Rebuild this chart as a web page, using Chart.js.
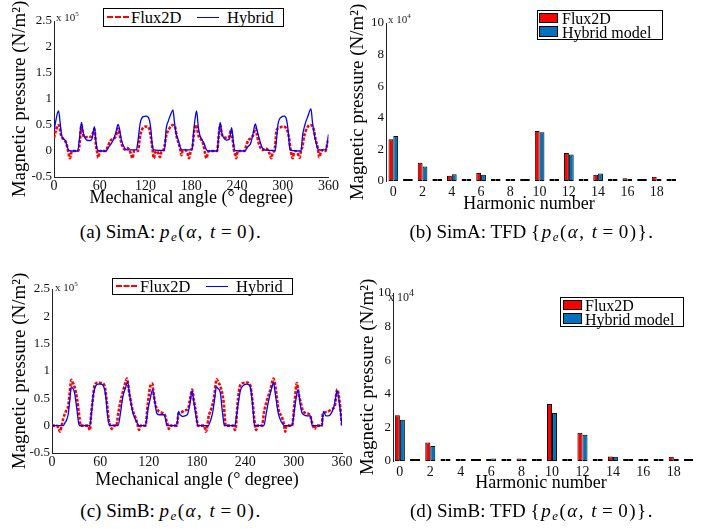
<!DOCTYPE html>
<html>
<head>
<meta charset="utf-8">
<script src="https://cdn.jsdelivr.net/npm/chart.js@4.4.1/dist/chart.umd.min.js"></script>
<style>
body { margin: 0; background: #fff; }
#page { position: relative; width: 710px; height: 529px; overflow: hidden; font-family: "Liberation Serif", "Times New Roman", serif; color: #000; }
canvas { position: absolute; }
.lg { position: absolute; border: 1px solid #000; background: #fff; box-sizing: border-box; z-index: 2; }
.lg span { position: absolute; white-space: nowrap; line-height: 1; }
.exp { position: absolute; font-size: 11px; color: #222; white-space: nowrap; line-height: 1; z-index: 2; }
.exp sup { font-size: 7px; vertical-align: 5px; }
.cap { position: absolute; font-size: 19px; white-space: nowrap; transform: translateX(-50%); line-height: 1.2; }
.cap .m { letter-spacing: 1.5px; }
.cap .eq { margin: 0 4px; }
.cap sub { font-size: 13px; vertical-align: -3px; }
</style>
</head>
<body>
<div id="page">
  <canvas id="chartA" width="340" height="210" style="left:0;top:0"></canvas>
  <canvas id="chartB" width="365" height="216" style="left:345px;top:0"></canvas>
  <canvas id="chartC" width="355" height="232" style="left:0;top:260px"></canvas>
  <canvas id="chartD" width="360" height="235" style="left:350px;top:260px"></canvas>

  <div class="exp" style="left:56px;top:11px">x 10<sup>5</sup></div>
  <div class="exp" style="left:388px;top:13px">x 10<sup>4</sup></div>
  <div class="exp" style="left:55px;top:281px">x 10<sup>5</sup></div>
  <div class="exp" style="left:388px;top:288px;font-size:12px">x 10<sup style="font-size:10px">4</sup></div>

  <div class="lg" style="left:103px;top:8px;width:181px;height:19px;font-size:16.5px">
    <span style="left:3px;top:7px;width:22px;border-top:2px dashed #f00"></span>
    <span style="left:27px;top:1px">Flux2D</span>
    <span style="left:93px;top:8px;width:22px;border-top:1.5px solid #00f"></span>
    <span style="left:123px;top:1px">Hybrid</span>
  </div>
  <div class="lg" style="left:112px;top:278px;width:181px;height:17px;font-size:16.5px">
    <span style="left:3px;top:6px;width:21px;border-top:2px dashed #f00"></span>
    <span style="left:27px;top:0px">Flux2D</span>
    <span style="left:93px;top:7px;width:22px;border-top:1.5px solid #00f"></span>
    <span style="left:123px;top:0px">Hybrid</span>
  </div>
  <div class="lg" style="left:537px;top:10px;width:126px;height:30px;font-size:16px">
    <span style="left:1px;top:2px;width:19px;height:10px;background:#f00;border:1px solid #000;box-sizing:border-box"></span>
    <span style="left:1px;top:15px;width:19px;height:11px;background:#0072bd;border:1px solid #000;box-sizing:border-box"></span>
    <span style="left:24px;top:0px">Flux2D</span>
    <span style="left:24px;top:14px">Hybrid model</span>
  </div>
  <div class="lg" style="left:560px;top:297px;width:124px;height:30px;font-size:16px">
    <span style="left:2px;top:2px;width:19px;height:10px;background:#f00;border:1px solid #000;box-sizing:border-box"></span>
    <span style="left:2px;top:15px;width:19px;height:11px;background:#0072bd;border:1px solid #000;box-sizing:border-box"></span>
    <span style="left:24px;top:0px">Flux2D</span>
    <span style="left:24px;top:14px">Hybrid model</span>
  </div>

  <div class="cap" style="left:171px;top:221px">(a) SimA: <span class="m"><i>p<sub>e</sub></i>(<i>α</i>, <i>t</i><span class="eq">=</span>0).</span></div>
  <div class="cap" style="left:532px;top:221px">(b) SimA: TFD <span class="m">{<i>p<sub>e</sub></i>(<i>α</i>, <i>t</i><span class="eq">=</span>0)}.</span></div>
  <div class="cap" style="left:171px;top:500px">(c) SimB: <span class="m"><i>p<sub>e</sub></i>(<i>α</i>, <i>t</i><span class="eq">=</span>0).</span></div>
  <div class="cap" style="left:532px;top:500px">(d) SimB: TFD <span class="m">{<i>p<sub>e</sub></i>(<i>α</i>, <i>t</i><span class="eq">=</span>0)}.</span></div>
</div>

<script>
// tick labels
const angleTicks = [0, 60, 120, 180, 240, 300, 360];
const pressureTicks = [-0.5, 0, 0.5, 1, 1.5, 2, 2.5];
const harmonics = [0, 1, 2, 3, 4, 5, 6, 7, 8, 9, 10, 11, 12, 13, 14, 15, 16, 17, 18, 19];
const harmonicTicks = [0, 2, 4, 6, 8, 10, 12, 14, 16, 18];
const spectrumTicks = [0, 2, 4, 6, 8, 10];

// SimA pressure, [angle (deg), value (x 10^5 N/m2)]
const simA_flux = [[0,0.25],[3,0.42],[5,0.50],[7,0.48],[9,0.32],[11,0.25],[14,0.21],[17,0.10],[19,-0.04],[21,-0.14],[23,-0.02],[25,0],[32,0],[34,0.20],[36,0.50],[38,0.32],[40,0.26],[43,0.27],[47,0.27],[50,0.30],[53,0.42],[55,0.12],[57,-0.06],[58,-0.13],[60,0],[68,0],[71,0.10],[74,0.20],[78,0.23],[81,0.28],[84,0.43],[86,0.32],[88,0.18],[90,0.08],[93,0.03],[95,0.06],[98,0.04],[101,-0.06],[103,-0.14],[105,0],[110,0],[113,0.30],[117,0.45],[121,0.47],[125,0.43],[127,0.27],[129,0.06],[131,-0.14],[133,-0.02],[135,0],[137,-0.05],[139,-0.12],[141,-0.02],[143,0],[145,0.10],[147,0.28],[152,0.45],[156,0.50],[159,0.45],[161,0.27],[164,0.12],[166,0],[167,-0.08],[169,0.01],[172,0.02],[175,-0.04],[177,-0.14],[179,-0.02],[182,0.12],[184,0.40],[186,0.50],[188,0.42],[190,0.27],[193,0.22],[196,0.12],[198,-0.04],[200,-0.14],[202,-0.02],[204,0],[214,0],[216,0.30],[218,0.50],[220,0.33],[223,0.27],[227,0.25],[230,0.28],[232,0.40],[234,0.25],[236,0.02],[238,-0.08],[239,-0.14],[241,0],[250,0],[252,0.10],[255,0.21],[258,0.24],[261,0.30],[264,0.43],[266,0.33],[268,0.18],[271,0.06],[274,0.02],[277,0.05],[280,0.03],[283,-0.06],[285,-0.14],[287,-0.02],[289,0],[290,0.10],[292,0.40],[296,0.45],[300,0.47],[304,0.45],[308,0.27],[310,0.05],[312,-0.10],[313,-0.14],[315,-0.02],[317,0],[320,-0.06],[322,-0.13],[324,0],[326,0.10],[328,0.28],[333,0.47],[336,0.50],[340,0.45],[343,0.23],[346,0.05],[348,-0.12],[350,-0.02],[353,0.02],[356,0],[358,0.10],[360,0.25]];
const simA_hybrid = [[0,0.40],[2,0.55],[4,0.70],[6,0.77],[8,0.55],[10,0.30],[12,0.24],[15,0.20],[17,0.10],[19,0.02],[22,0],[31,0],[33,0.18],[36,0.55],[38,0.38],[40,0.27],[43,0.21],[47,0.20],[50,0.24],[53,0.47],[55,0.18],[57,0.02],[60,0],[68,0],[71,0.06],[74,0.12],[78,0.22],[81,0.35],[84,0.51],[86,0.42],[88,0.24],[91,0.10],[94,0.03],[97,0.02],[108,0.02],[110,0.18],[113,0.53],[117,0.66],[121,0.67],[125,0.60],[127,0.42],[129,0.10],[131,0.02],[145,0.01],[147,0.42],[150,0.58],[153,0.70],[156,0.79],[158,0.55],[160,0.34],[163,0.21],[165,0.10],[167,0.03],[170,0.02],[181,0.02],[183,0.35],[185,0.62],[187,0.77],[189,0.50],[191,0.32],[194,0.22],[197,0.14],[200,0.02],[203,0],[214,0],[216,0.30],[218,0.55],[220,0.35],[222,0.27],[226,0.21],[230,0.23],[233,0.45],[235,0.20],[237,0.01],[250,0],[254,0.08],[258,0.15],[261,0.33],[264,0.52],[266,0.42],[269,0.25],[272,0.10],[275,0.02],[290,0.01],[292,0.25],[294,0.53],[298,0.65],[302,0.67],[305,0.60],[307,0.40],[309,0.08],[311,0.01],[324,0],[326,0.30],[329,0.50],[333,0.67],[337,0.81],[339,0.55],[341,0.35],[343,0.21],[345,0.08],[347,0.02],[356,0.02],[358,0.12],[360,0.32]];

// SimB pressure
const simB_flux = [[0,0],[6,0],[8,-0.05],[10,-0.11],[12,0],[14,0.13],[18,0.29],[20,0.35],[22,0.60],[24,0.84],[26,0.78],[28,0.71],[31,0.50],[34,0.16],[35.5,0],[45,0],[47,-0.08],[48.5,0.20],[50,0.40],[53,0.74],[57,0.79],[61,0.78],[65,0.74],[68,0.44],[70.5,0.10],[72.5,0],[74,-0.06],[76,0],[80,0],[82,0.20],[85,0.44],[88,0.62],[91,0.78],[93,0.86],[96,0.59],[100,0.29],[104,0.13],[106.5,0],[108,-0.08],[110,0],[116,0],[119,0.41],[122,0.72],[124.5,0.77],[126,0.60],[128,0.41],[131,0.29],[136,0.24],[140,0.20],[142.5,0.07],[144,0],[145,-0.06],[147,0],[155,0],[157,0.22],[161,0.25],[165,0.28],[169,0.31],[171,0.45],[174,0.66],[176,0.47],[179,0.22],[181,0],[189,0],[191,-0.11],[193,0],[194,0.13],[198,0.32],[201,0.50],[204.5,0.85],[207,0.78],[209,0.72],[213,0.44],[215.7,0],[225,0],[227,-0.08],[228.5,0],[230,0.35],[234,0.75],[238,0.78],[242,0.79],[246,0.74],[249,0.44],[252,0],[253.5,-0.08],[255,0],[261,0],[263,0.23],[267,0.47],[271,0.65],[275,0.86],[278,0.65],[281,0.31],[285.5,0.15],[288,0.02],[289.5,-0.11],[291,0],[298,0],[301,0.41],[304,0.78],[306,0.60],[308.5,0.44],[311,0.29],[315,0.23],[320,0.20],[322.5,0.07],[324,0],[326,-0.06],[328,0],[335,0],[336,0.20],[341,0.25],[347,0.30],[351,0.36],[354,0.66],[357,0.44],[360,0]];
const simB_hybrid = [[0,0],[14,0],[16,0.05],[18,0.10],[20,0.20],[22,0.45],[24,0.71],[26,0.68],[28,0.60],[30,0.40],[31,0.29],[33,0.05],[34,0],[47,0],[49,0.23],[51,0.53],[53,0.68],[57,0.76],[61,0.76],[65,0.68],[67,0.50],[69,0.18],[71,0.02],[72,0],[82,0],[85,0.23],[88,0.53],[91,0.68],[94,0.80],[96,0.60],[98,0.42],[100,0.26],[103,0.13],[106,0.04],[108,0],[116,0],[119,0.29],[122,0.50],[125,0.66],[127,0.50],[130,0.23],[133,0.20],[136,0.20],[139,0.20],[141,0.12],[142.5,0],[155,0],[157,0.26],[159,0.20],[162,0.17],[165,0.18],[168,0.20],[171,0.38],[174,0.64],[176,0.44],[179,0.16],[181,0],[194,0],[196,0.06],[198,0.15],[200,0.29],[202,0.50],[204,0.71],[206,0.68],[209,0.60],[211,0.32],[213,0.08],[214,0],[227,0],[229,0.18],[231,0.38],[234,0.65],[238,0.74],[242,0.76],[246,0.71],[248,0.52],[250,0.20],[251.5,0],[263,0],[266,0.23],[270,0.53],[273,0.70],[275,0.79],[277,0.60],[279,0.40],[281,0.22],[284,0.09],[287,0.02],[289,0],[298,0],[301,0.29],[303,0.50],[305.5,0.66],[308,0.40],[310.5,0.23],[314,0.19],[317,0.18],[321,0.18],[322,0.10],[323,0],[335,0],[337,0.26],[340,0.18],[343,0.18],[346,0.21],[350,0.35],[352,0.50],[354,0.64],[357,0.38],[360,0]];

// harmonic spectra (x 10^4 N/m2), one value per harmonic
const simA_fluxSpec   = [2.65, 0, 1.16, 0, 0.34, 0, 0.50, 0, 0.13, 0, 3.16, 0, 1.78, 0, 0.40, 0, 0.18, 0, 0.27, 0];
const simA_hybridSpec = [2.85, 0, 0.91, 0, 0.42, 0, 0.40, 0, 0.13, 0, 3.08, 0, 1.68, 0, 0.47, 0, 0.10, 0, 0.12, 0];
const simB_fluxSpec   = [2.72, 0, 1.10, 0, 0.10, 0, 0.02, 0, 0.15, 0, 3.39, 0, 1.68, 0, 0.27, 0, 0.09, 0, 0.26, 0];
const simB_hybridSpec = [2.46, 0, 0.89, 0, 0.12, 0, 0.15, 0, 0.04, 0, 2.86, 0, 1.56, 0, 0.25, 0, 0.03, 0, 0.12, 0];

const serif = 'Liberation Serif';
const tickFont = { family: serif, size: 14 };
const titleFont = { family: serif, size: 18 };
const yTitleFont = { family: serif, size: 19 };

function makeLine(id, flux, hybrid, box) {
  new Chart(document.getElementById(id), {
    type: 'line',
    data: {
      datasets: [
        {
          label: 'Hybrid',
          data: hybrid.map(p => ({ x: p[0], y: p[1] })),
          borderColor: '#0000ff',
          borderWidth: 1.3,
          pointRadius: 0,
          cubicInterpolationMode: 'monotone',
          order: 0
        },
        {
          label: 'Flux2D',
          data: flux.map(p => ({ x: p[0], y: p[1] })),
          borderColor: '#ff0000',
          borderWidth: 2.6,
          borderDash: [3, 1.5],
          pointRadius: 0,
          cubicInterpolationMode: 'monotone',
          order: 1
        }
      ]
    },
    options: {
      responsive: false,
      animation: false,
      devicePixelRatio: 1,
      layout: { padding: { top: box.top, right: box.right, left: 0, bottom: 0 } },
      plugins: { legend: { display: false }, tooltip: { enabled: false } },
      scales: {
        x: {
          type: 'linear', min: 0, max: 360,
          afterBuildTicks: s => { s.ticks = angleTicks.map(v => ({ value: v })); },
          afterFit: s => { s.height = box.xh; },
          grid: { display: false, drawTicks: false },
          border: { display: true, color: '#222', width: 1 },
          ticks: { padding: 1, color: '#111', font: tickFont, maxRotation: 0, autoSkip: false },
          title: { display: true, text: 'Mechanical angle (° degree)', color: '#000', font: titleFont, padding: { top: 0, bottom: 1 } }
        },
        y: {
          min: -0.5, max: 2.5,
          afterBuildTicks: s => { s.ticks = pressureTicks.map(v => ({ value: v })); },
          afterFit: s => { s.width = box.yw; },
          grid: { display: false, drawTicks: false },
          border: { display: true, color: '#222', width: 1 },
          ticks: { padding: 2, color: '#111', font: { family: serif, size: 13 }, callback: v => String(v) },
          title: { display: true, text: 'Magnetic pressure (N/m²)', color: '#000', font: yTitleFont, padding: { top: 9, bottom: 0 } }
        }
      }
    }
  });
}

function makeBars(id, flux, hybrid, box) {
  const common = { borderColor: '#000', borderWidth: 1, borderSkipped: false, minBarLength: 2,
                   barPercentage: 1, categoryPercentage: 0.66, clip: 4 };
  new Chart(document.getElementById(id), {
    type: 'bar',
    data: {
      datasets: [
        Object.assign({ label: 'Flux2D', backgroundColor: '#ff0000',
          data: harmonics.map((h, i) => ({ x: h, y: flux[i] })) }, common),
        Object.assign({ label: 'Hybrid model', backgroundColor: '#0072bd',
          data: harmonics.map((h, i) => ({ x: h, y: hybrid[i] })) }, common)
      ]
    },
    options: {
      responsive: false,
      animation: false,
      devicePixelRatio: 1,
      layout: { padding: { top: box.top, right: box.right, left: 0, bottom: 0 } },
      plugins: { legend: { display: false }, tooltip: { enabled: false } },
      scales: {
        x: {
          type: 'linear', min: box.xmin, max: box.xmax, offset: false,
          afterBuildTicks: s => { s.ticks = harmonicTicks.map(v => ({ value: v })); },
          afterFit: s => { s.height = box.xh; },
          grid: { display: false, drawTicks: false },
          border: { display: false },
          ticks: { padding: 3, color: '#111', font: tickFont, maxRotation: 0, autoSkip: false },
          title: { display: true, text: 'Harmonic number', color: '#000', font: titleFont, padding: { top: 0, bottom: 1 } }
        },
        y: {
          min: 0, max: 10,
          afterBuildTicks: s => { s.ticks = spectrumTicks.map(v => ({ value: v })); },
          afterFit: s => { s.width = box.yw; },
          grid: { display: false, drawTicks: false },
          border: { display: true, color: '#222', width: 1 },
          ticks: { padding: 2, color: '#111', font: { family: serif, size: 13 } },
          title: { display: true, text: 'Magnetic pressure (N/m²)', color: '#000', font: yTitleFont, padding: { top: box.tp, bottom: 0 } }
        }
      }
    }
  });
}

makeLine('chartA', simA_flux, simA_hybrid, { top: 21, right: 11, xh: 33, yw: 54 });
makeBars('chartB', simA_fluxSpec, simA_hybridSpec, { top: 23, right: 38, xh: 35, yw: 41, tp: 2, xmin: -0.5, xmax: 19.05 });
makeLine('chartC', simB_flux, simB_hybrid, { top: 29, right: 13, xh: 39, yw: 52 });
makeBars('chartD', simB_fluxSpec, simB_hybridSpec, { top: 33, right: 21, xh: 34, yw: 43, tp: 7, xmin: -0.45, xmax: 19 });
</script>
</body>
</html>
